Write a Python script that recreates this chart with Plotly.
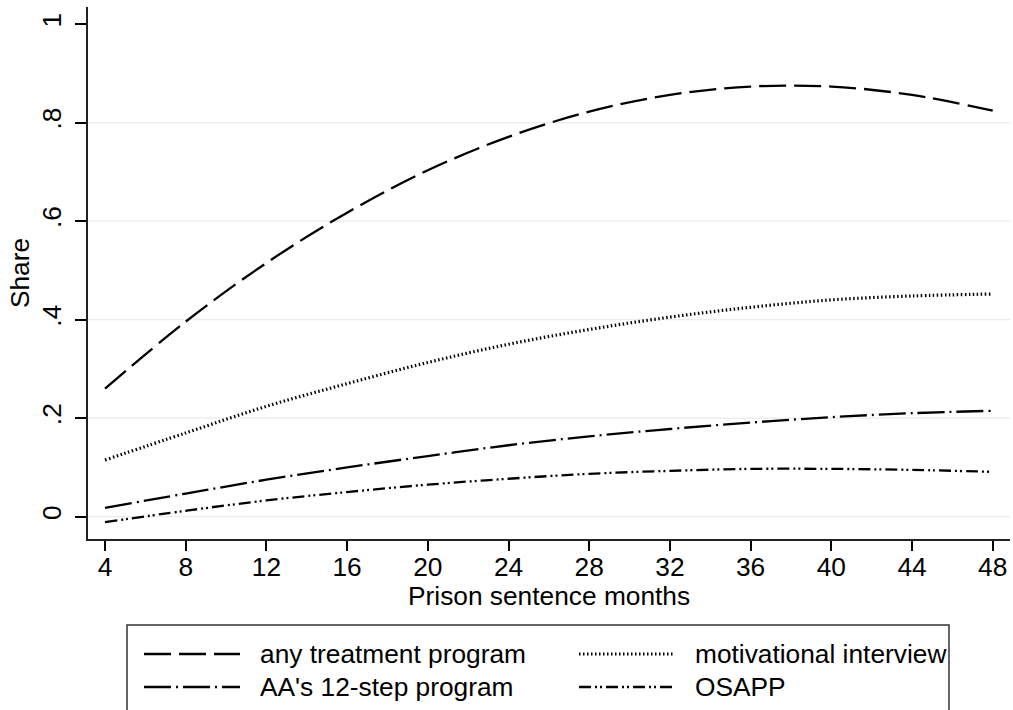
import plotly.graph_objects as go

# ---------------- data ----------------
months = [4, 8, 12, 16, 20, 24, 28, 32, 36, 40, 44, 48]
any_treatment = [0.260, 0.396, 0.515, 0.617, 0.703, 0.771, 0.822, 0.856, 0.873, 0.873, 0.856, 0.824]
motivational = [0.115, 0.170, 0.224, 0.270, 0.313, 0.350, 0.380, 0.405, 0.425, 0.440, 0.448, 0.452]
aa_12step = [0.018, 0.047, 0.075, 0.100, 0.123, 0.145, 0.163, 0.178, 0.191, 0.202, 0.210, 0.215]
osapp = [-0.011, 0.012, 0.033, 0.050, 0.065, 0.077, 0.087, 0.093, 0.097, 0.097, 0.095, 0.091]

series_names = ["any treatment program", "motivational interview",
                "AA's 12-step program", "OSAPP"]
series_values = [any_treatment, motivational, aa_12step, osapp]

x_ticks = [4, 8, 12, 16, 20, 24, 28, 32, 36, 40, 44, 48]
y_ticks = [0, 0.2, 0.4, 0.6, 0.8, 1]
y_tick_text = ["0", ".2", ".4", ".6", ".8", "1"]
grid_vals = [0, 0.2, 0.4, 0.6, 0.8]
x_title = "Prison sentence months"
y_title = "Share"

# ---------------- styling ----------------
FONT = "Liberation Sans, Arial, sans-serif"
FS = 26.3
dashes = ["27px,8px", "1.5px,2.5px", "27px,5px,2px,5px", "12px,4px,2px,3px,2px,4px"]
widths = [2.3, 3.2, 2.3, 2.3]

W, H = 1013, 710
L, R, T, B = 88, 1010, 7, 539


def px_x(p):
    return (p - L) / (R - L)


def px_y(p):
    return (B - p) / (B - T)


fig = go.Figure()
for name, vals, d, w in zip(series_names, series_values, dashes, widths):
    fig.add_trace(go.Scatter(
        x=months, y=vals, mode="lines", name=name,
        line=dict(color="black", width=w, dash=d, shape="spline", smoothing=1.0),
        showlegend=False, hoverinfo="skip"))

shapes = []
# gridlines
for g in grid_vals:
    shapes.append(dict(type="line", xref="paper", yref="y", x0=0, x1=1, y0=g, y1=g,
                       line=dict(color="#e6eef1", width=1.3), layer="below"))

# legend box
shapes.append(dict(type="rect", xref="paper", yref="paper",
                   x0=px_x(127), x1=px_x(949), y0=px_y(780), y1=px_y(625),
                   line=dict(color="#333333", width=1.5), fillcolor="rgba(0,0,0,0)"))

legend_pos = [(144, 654), (579, 654), (144, 687), (579, 687)]
annotations = []
for (lx, ly), name, d, w in zip(legend_pos, series_names, dashes, widths):
    shapes.append(dict(type="line", xref="paper", yref="paper",
                       x0=px_x(lx), x1=px_x(lx + 96), y0=px_y(ly), y1=px_y(ly),
                       line=dict(color="black", width=w, dash=d)))
    annotations.append(dict(xref="paper", yref="paper", x=px_x(lx + 114), y=px_y(ly),
                            text=name, showarrow=False, xanchor="left", yanchor="middle",
                            font=dict(family=FONT, size=FS, color="black")))

# x-axis title
annotations.append(dict(xref="paper", yref="paper", x=0.5, y=px_y(596),
                        text=x_title, showarrow=False, xanchor="center", yanchor="middle",
                        borderpad=0,
                        font=dict(family=FONT, size=FS, color="black")))

fig.update_layout(
    width=W, height=H,
    margin=dict(l=L, r=W - R, t=T, b=H - B, autoexpand=False),
    paper_bgcolor="white", plot_bgcolor="white",
    font=dict(family=FONT, size=FS, color="black"),
    shapes=shapes, annotations=annotations,
    xaxis=dict(range=[3.157, 48.857], tickvals=x_ticks, ticks="outside", ticklen=10,
               tickwidth=1.5, tickcolor="black", showline=True, linecolor="#222222",
               linewidth=1.5, showgrid=False, zeroline=False, ticklabelstandoff=-6,
               tickfont=dict(family=FONT, size=FS)),
    yaxis=dict(range=[-0.0453, 1.0345], tickvals=y_ticks, ticktext=y_tick_text,
               tickangle=-90, ticks="outside", ticklen=11, tickwidth=1.5,
               tickcolor="black", showline=True, linecolor="#222222", linewidth=1.5,
               showgrid=False, zeroline=False, ticklabelstandoff=4,
               title=dict(text=y_title, standoff=0, font=dict(family=FONT, size=FS)),
               tickfont=dict(family=FONT, size=FS)),
)

fig.write_html("out.html")
